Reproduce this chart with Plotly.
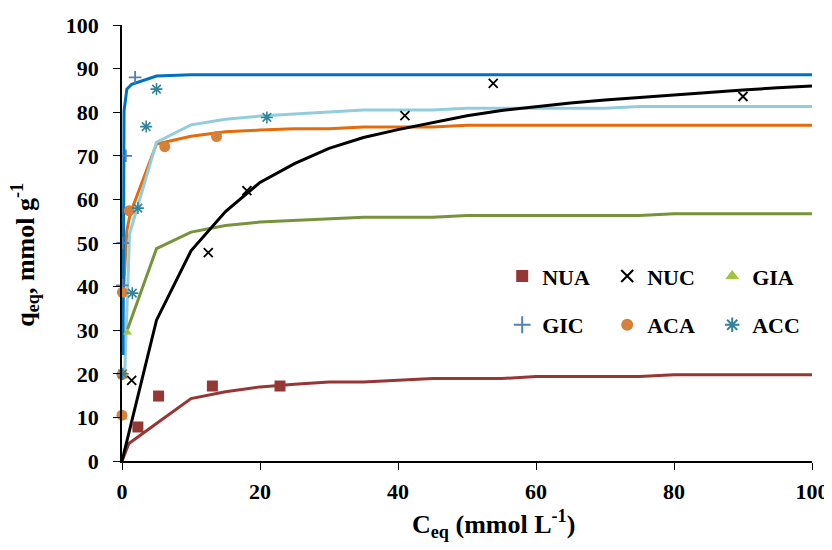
import plotly.graph_objects as go

# ---------------- data ----------------
# measured points
NUA_x = [2.3, 5.3, 13.1, 22.9]
NUA_y = [7.8, 14.9, 17.2, 17.2]
NUC_x = [1.4, 12.5, 18.1, 41.0, 53.8, 90.0]
NUC_y = [18.5, 47.8, 62.0, 79.2, 86.6, 83.6]
GIA_x = [0.2, 0.2, 0.8]
GIA_y = [10.0, 19.4, 29.5]
GIC_x = [0.05, 0.1, 0.55, 1.9]
GIC_y = [40.3, 50.0, 70.0, 88.0]
ACA_x = [0.0, 0.0, 0.05, 1.06, 6.2, 13.7]
ACA_y = [10.5, 19.8, 38.7, 57.4, 72.1, 74.4]
ACC_x = [0.1, 1.5, 2.3, 3.5, 5.0, 21.0]
ACC_y = [20.0, 38.5, 58.0, 76.7, 85.3, 78.8]

# model (fit) curves
GRID = [5, 10, 15, 20, 25, 30, 35, 40, 45, 50, 55, 60, 65, 70, 75, 80, 85, 90, 95, 100]
NUA_fit_x = [0, 1] + GRID
NUA_fit_y = [0, 4.0, 8.6, 14.3, 15.9, 17.0, 17.6, 18.1, 18.1, 18.5, 18.9, 18.9,
             18.9, 19.4, 19.4, 19.4, 19.4, 19.8, 19.8, 19.8, 19.8, 19.8]
NUC_fit_x = [0, 1] + GRID
NUC_fit_y = [0, 6.5, 32.3, 48.2, 57.2, 63.9, 68.2, 71.7, 74.2, 76.0, 77.6, 79.2,
             80.4, 81.3, 82.1, 82.8, 83.4, 84.0, 84.6, 85.1, 85.6, 86.0]
GIA_fit_x = [0.8] + GRID
GIA_fit_y = [30.2, 48.7, 52.5, 54.0, 54.8, 55.2, 55.6, 55.9, 55.9, 55.9, 56.3,
             56.3, 56.3, 56.3, 56.3, 56.3, 56.7, 56.7, 56.7, 56.7, 56.7]
GIC_fit_x = [0.15, 0.3, 0.7, 1.4] + GRID
GIC_fit_y = [24.3, 80.3, 85.3, 86.4, 88.3] + [88.6] * 19
ACA_fit_x = [0.2, 0.7, 1.2] + GRID
ACA_fit_y = [38.5, 52.9, 56.8, 72.7, 74.5, 75.5, 75.9, 76.2, 76.2, 76.6, 76.6,
             76.6] + [77.0] * 11
ACC_fit_x = [0.4, 1.1] + GRID
ACC_fit_y = [20.5, 52.1, 73.1, 77.1, 78.4, 79.1, 79.6, 80.1, 80.5, 80.5, 80.5,
             80.9, 80.9, 80.9, 80.9, 80.9, 81.3, 81.3, 81.3, 81.3, 81.3, 81.3]

X_TICKS = [0, 20, 40, 60, 80, 100]
Y_TICKS = [0, 10, 20, 30, 40, 50, 60, 70, 80, 90, 100]

FONT = "Liberation Serif"

fig = go.Figure()

# fit lines (no legend)
line_specs = [
    (ACA_fit_x, ACA_fit_y, "#E46C0A"),
    (ACC_fit_x, ACC_fit_y, "#93CDDD"),
    (GIC_fit_x, GIC_fit_y, "#0070C0"),
    (GIA_fit_x, GIA_fit_y, "#77933C"),
    (NUA_fit_x, NUA_fit_y, "#953735"),
    (NUC_fit_x, NUC_fit_y, "#000000"),
]
for fx, fy, col in line_specs:
    fig.add_trace(go.Scatter(x=fx, y=fy, mode="lines", showlegend=False,
                             line=dict(color=col, width=3), hoverinfo="skip",
                             cliponaxis=False))

# measured markers
def add_pts(x, y, name, symbol, size, color, legend, lw=0):
    m = dict(symbol=symbol, size=size, color=color)
    if lw:
        m["line"] = dict(color=color, width=lw)
    fig.add_trace(go.Scatter(x=x, y=y, mode="markers", name=name, marker=m,
                             legend=legend, cliponaxis=False))

add_pts(NUA_x, NUA_y, "NUA", "square", 11, "#953735", "legend")
add_pts(NUC_x, NUC_y, "NUC", "x-thin-open", 9, "#000000", "legend", 1.8)
add_pts(GIA_x, GIA_y, "GIA", "triangle-up", 8, "#A0C43A", "legend")
add_pts(GIC_x, GIC_y, "GIC", "cross-thin-open", 9, "#4F81BD", "legend2", 1.8)
add_pts(ACA_x, ACA_y, "ACA", "circle", 11, "#D5803B", "legend2")
add_pts(ACC_x, ACC_y, "ACC", "asterisk-open", 10, "#31849B", "legend2", 1.6)

axis_common = dict(
    showgrid=False, zeroline=False, showline=True, linecolor="black",
    linewidth=1.5, ticks="outside", ticklen=7, tickwidth=1.2, tickcolor="black",
    tickfont=dict(family=FONT, size=22, color="black", weight="bold"),
)

legend_common = dict(
    orientation="h", font=dict(family=FONT, size=22, color="black", weight="bold"),
    bgcolor="rgba(0,0,0,0)", entrywidth=60, entrywidthmode="pixels",
    xanchor="left", yanchor="middle", itemsizing="constant",
)

# page is drawn with an 8px body offset: margins compensate for it
fig.update_layout(
    width=832, height=550,
    margin=dict(l=114, r=28, t=17, b=97, autoexpand=False),
    paper_bgcolor="white", plot_bgcolor="white",
    xaxis=dict(range=[0, 100], tickvals=X_TICKS, ticklabelstandoff=3, **axis_common),
    yaxis=dict(range=[0, 100], tickvals=Y_TICKS, ticklabelstandoff=10, **axis_common),
    legend=dict(x=0.551, y=0.424, **legend_common),
    legend2=dict(x=0.551, y=0.312, **legend_common),
    showlegend=True,
    annotations=[
        dict(text="C<sub>eq</sub> (mmol L<sup>-1</sup>)", xref="paper", yref="paper",
             x=0.539, y=-0.145, showarrow=False, xanchor="center", yanchor="middle",
             font=dict(family=FONT, size=26, color="black", weight="bold")),
        dict(text="q<sub>eq</sub>, mmol g<sup>-1</sup>", xref="paper", yref="paper",
             x=-0.14, y=0.474, showarrow=False, xanchor="center", yanchor="middle",
             textangle=-90,
             font=dict(family=FONT, size=26, color="black", weight="bold")),
    ],
)

fig.write_html("out.html")
